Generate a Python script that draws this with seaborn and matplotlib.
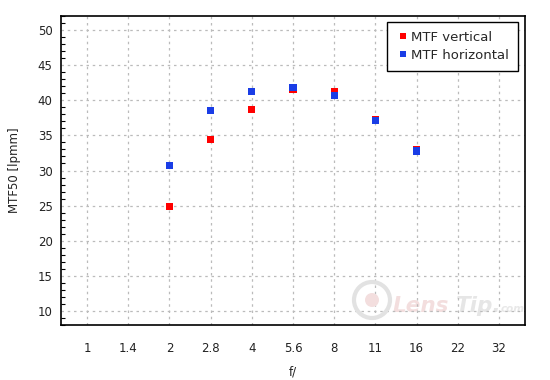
import numpy as np
import pandas as pd
import matplotlib
matplotlib.use("Agg")
import matplotlib.pyplot as plt
import seaborn as sns
from matplotlib.ticker import MultipleLocator
from matplotlib.patches import Circle

apertures = ["1", "1.4", "2", "2.8", "4", "5.6", "8", "11", "16", "22", "32"]
measured = ["2", "2.8", "4", "5.6", "8", "11", "16"]
mtf_vertical = [24.9, 34.4, 38.7, 41.6, 41.2, 37.25, 33.0]
mtf_horizontal = [30.7, 38.55, 41.25, 41.8, 40.7, 37.1, 32.8]
series_names = ["MTF vertical", "MTF horizontal"]
colors = ["#ff0000", "#1a3de6"]

sns.set_theme(style="white")
plt.rcParams['font.family'] = ['DejaVu Sans']

pos = {a: i for i, a in enumerate(apertures)}
df = pd.DataFrame({
    "x": [pos[a] for a in measured] * 2,
    "y": mtf_vertical + mtf_horizontal,
    "series": [series_names[0]] * len(measured) + [series_names[1]] * len(measured),
})

fig = plt.figure(figsize=(5.5, 3.8), dpi=100)
ax = fig.add_axes([61/550, 55/380, (525-61)/550, (325-16)/380])

# watermark (figure pixel coordinates, bottom-left origin)
wm_kw = dict(xycoords="figure pixels", fontstyle="italic", fontweight="bold",
             ha="left", va="baseline", zorder=0.5, annotation_clip=False)
ax.annotate("Lens", xy=(393, 68), fontsize=15.5, color="#f3dede", **wm_kw)
ax.annotate("Tip.", xy=(456, 68), fontsize=15.5, color="#e6e6e6", **wm_kw)
ax.annotate("com", xy=(501, 68), fontsize=7.5, color="#e8e8e8", **wm_kw)
circ = Circle((372, 80), 18, transform=None, fill=False, edgecolor="#e2e2e2",
              linewidth=3, zorder=0.5)
fig.patches.append(circ)
dot = Circle((372, 80), 7, transform=None, facecolor="#f3dede", edgecolor="none",
             zorder=0.5)
fig.patches.append(dot)

sns.scatterplot(data=df, x="x", y="y", hue="series", palette=colors,
                marker="s", s=28, linewidth=0, ax=ax, zorder=3)

ax.set_xlim(-0.63, 10.63)
ax.set_ylim(8, 52)
ax.set_xticks(range(len(apertures)))
ax.set_xticklabels(apertures)
ax.yaxis.set_minor_locator(MultipleLocator(1))
ax.set_yticks(range(10, 51, 5))
ax.tick_params(axis="both", which="major", direction="in", length=5, width=1,
               color="black", labelsize=8.5, labelcolor="#222222")
ax.tick_params(axis="y", which="minor", direction="in", length=3, width=0.8,
               color="black", left=True)
ax.tick_params(axis="y", which="major", pad=6)
ax.tick_params(axis="x", which="major", pad=12)
ax.grid(True, which="major", linestyle=(0, (2, 3)), color="#bbbbbb", linewidth=0.9)
ax.set_axisbelow(True)
ax.patch.set_alpha(0)
for sp in ax.spines.values():
    sp.set_color("black")
    sp.set_linewidth(1.2)

ax.set_xlabel("f/", fontsize=8.5, color="#222222", labelpad=8)
ax.set_ylabel("MTF50 [lpmm]", fontsize=8.5, color="#222222", labelpad=12)

leg = ax.legend(loc="upper right", bbox_to_anchor=(0.99, 0.99), frameon=True,
                fancybox=False, edgecolor="black", fontsize=9.5,
                handletextpad=0.1, borderpad=0.7, handlelength=1.0,
                markerscale=0.95, labelspacing=0.35, borderaxespad=0.2)
leg.get_frame().set_linewidth(1.0)
leg.get_frame().set_alpha(1)

fig.savefig("out.png", dpi=100)
